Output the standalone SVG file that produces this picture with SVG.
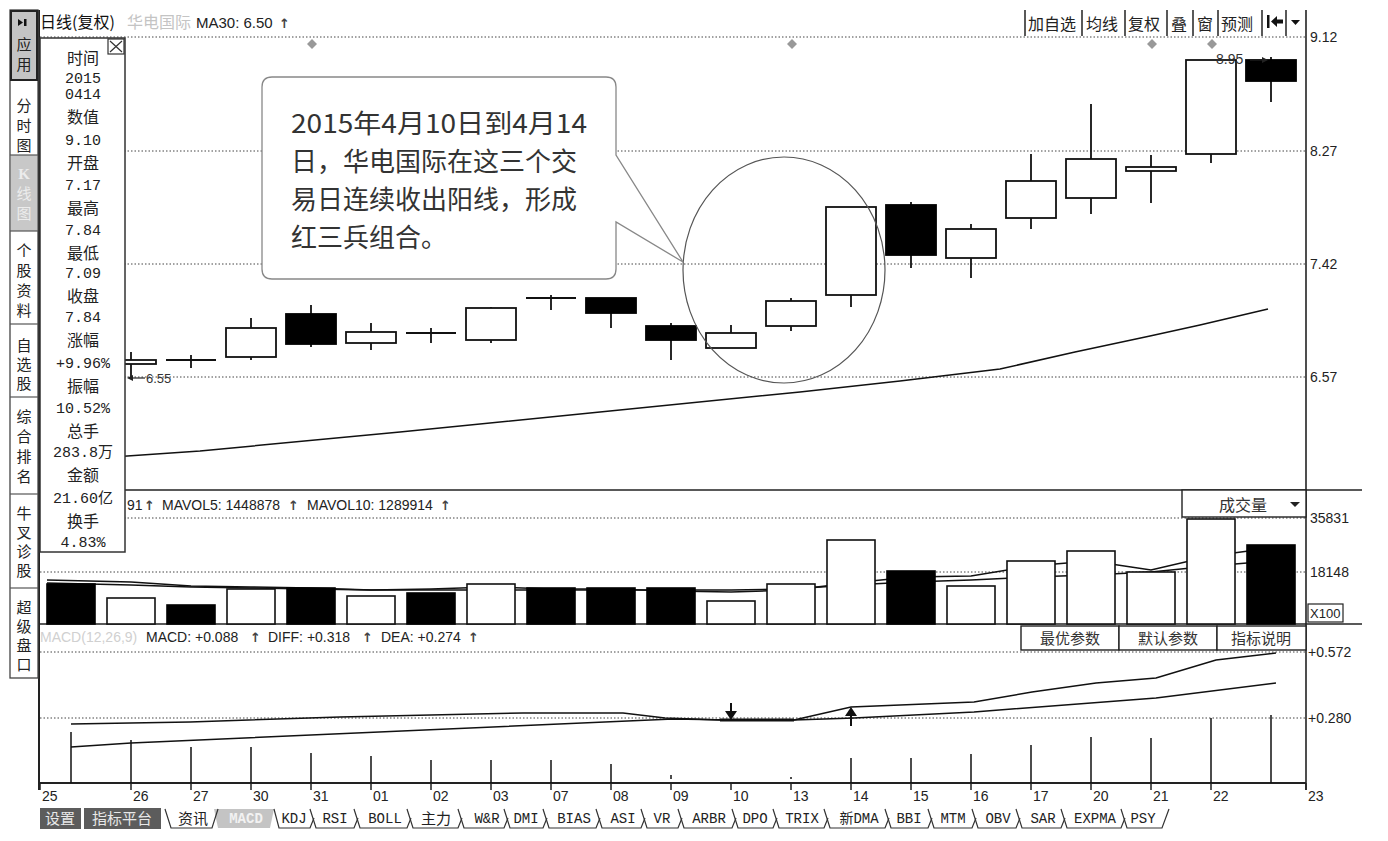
<svg xmlns="http://www.w3.org/2000/svg" width="1388" height="841" viewBox="0 0 1388 841">
<defs>
<style>
.cjk{font-family:"Noto Sans CJK SC",sans-serif;}
.sans{font-family:"Liberation Sans","Noto Sans CJK SC",sans-serif;}
.mono{font-family:"Liberation Mono","Noto Sans CJK SC",monospace;}
.grid{stroke:#444;stroke-width:1;stroke-dasharray:1.5 2;fill:none;}
.solid{stroke:#222;stroke-width:1.6;fill:none;}
.cw{fill:#fff;stroke:#111;stroke-width:1.8;}
.cb{fill:#000;stroke:#000;stroke-width:1.8;}
.wk{stroke:#111;stroke-width:1.8;}
.vw{fill:#fff;stroke:#111;stroke-width:1.6;}
.vb{fill:#000;stroke:#000;stroke-width:1.6;}
.bar{stroke:#111;stroke-width:1.5;}
.ln{fill:none;stroke:#111;stroke-width:1.5;}
.side{font-family:"Noto Sans CJK SC",sans-serif;font-size:15px;fill:#222;text-anchor:middle;}
.info{font-family:"Noto Sans CJK SC",sans-serif;font-size:16px;fill:#222;text-anchor:middle;}
.infov{font-family:"Liberation Mono","Noto Sans CJK SC",monospace;font-size:15px;fill:#222;text-anchor:middle;}
.ax{font-family:"Liberation Sans",sans-serif;font-size:14px;fill:#222;}
.tab{font-family:"Liberation Mono","Noto Sans CJK SC",monospace;font-size:14px;fill:#222;text-anchor:middle;}
.tabc{font-family:"Noto Sans CJK SC",sans-serif;font-size:15px;fill:#222;text-anchor:middle;}
.tb{font-family:"Noto Sans CJK SC",sans-serif;font-size:16px;fill:#222;}
.arr{font-family:"DejaVu Sans",sans-serif;font-size:13px;fill:#444;font-weight:bold;}
.dia{fill:#999;}
</style>
</defs>
<rect width="1388" height="841" fill="#fff"/>

<!-- grid lines -->
<g id="grid">
<line x1="40" y1="37" x2="1306" y2="37" class="grid"/>
<line x1="40" y1="151" x2="1306" y2="151" class="grid"/>
<line x1="40" y1="264" x2="1306" y2="264" class="grid"/>
<line x1="40" y1="377" x2="1306" y2="377" class="grid"/>
<line x1="40" y1="518" x2="1306" y2="518" class="grid"/>
<line x1="40" y1="572" x2="1306" y2="572" class="grid"/>
<line x1="40" y1="652" x2="1306" y2="652" class="grid"/>
<line x1="40" y1="718" x2="1306" y2="718" class="grid"/>
</g>

<!-- frame -->
<g id="frame">
<line x1="39" y1="10" x2="39" y2="790" stroke="#222" stroke-width="2"/>
<line x1="1306" y1="10" x2="1306" y2="790" stroke="#222" stroke-width="1.6"/>
<line x1="40" y1="490" x2="1362" y2="490" class="solid"/>
<line x1="40" y1="624" x2="1362" y2="624" class="solid"/>
<line x1="40" y1="783" x2="1306" y2="783" stroke="#222" stroke-width="2"/>
</g>

<!-- header -->
<g id="header">
<text x="40" y="28" class="cjk" font-size="16" fill="#111">日线(复权)</text>
<text x="127" y="28" class="cjk" font-size="16" fill="#c4c4c4">华电国际</text>
<text x="196" y="28" class="sans" font-size="15" fill="#222">MA30: 6.50</text>
<text x="279" y="28" class="arr">↑</text>
<polygon points="312,39 317,44 312,49 307,44" class="dia"/>
<polygon points="792,39 797,44 792,49 787,44" class="dia"/>
<polygon points="1152,39 1157,44 1152,49 1147,44" class="dia"/>
<polygon points="1212,39 1217,44 1212,49 1207,44" class="dia"/>
</g>

<!-- toolbar -->
<g id="toolbar">
<g stroke="#222" stroke-width="1.5">
<line x1="1025" y1="10" x2="1025" y2="36"/>
<line x1="1082" y1="10" x2="1082" y2="36"/>
<line x1="1125" y1="10" x2="1125" y2="36"/>
<line x1="1167" y1="10" x2="1167" y2="36"/>
<line x1="1193" y1="10" x2="1193" y2="36"/>
<line x1="1218" y1="10" x2="1218" y2="36"/>
<line x1="1262" y1="10" x2="1262" y2="36"/>
<line x1="1286" y1="10" x2="1286" y2="36"/>
</g>
<text x="1028" y="30" class="tb">加自选</text>
<text x="1086" y="30" class="tb">均线</text>
<text x="1128" y="30" class="tb">复权</text>
<text x="1171" y="30" class="tb">叠</text>
<text x="1197" y="30" class="tb">窗</text>
<text x="1221" y="30" class="tb">预测</text>
<rect x="1267" y="15" width="2.5" height="13" fill="#111"/>
<polygon points="1271,21.5 1277,16 1277,19.5 1283,19.5 1283,23.5 1277,23.5 1277,27" fill="#111"/>
<polygon points="1291,20 1300,20 1295.5,25" fill="#111"/>
</g>

<!-- MA30 line -->
<g id="ma30">
<polyline class="ln" points="40,462 200,451 400,432 600,412 800,392 900,381 1000,369 1075,352 1150,336 1200,325 1268,309"/>
</g>

<!-- candles -->
<g id="candles">
<g id="c0"><line x1="131" y1="352" x2="131" y2="378" class="wk"/><rect x="106" y="360" width="50" height="4" class="cw"/></g>
<g id="c1"><line x1="191" y1="355" x2="191" y2="368" class="wk"/><line x1="166" y1="360" x2="216" y2="360" class="wk"/></g>
<g id="c2"><line x1="251" y1="318" x2="251" y2="360" class="wk"/><rect x="226" y="328" width="50" height="29" class="cw"/></g>
<g id="c3"><line x1="311" y1="305" x2="311" y2="347" class="wk"/><rect x="286" y="314" width="50" height="30" class="cb"/></g>
<g id="c4"><line x1="371" y1="323" x2="371" y2="350" class="wk"/><rect x="346" y="332" width="50" height="11" class="cw"/></g>
<g id="c5"><line x1="431" y1="328" x2="431" y2="343" class="wk"/><line x1="406" y1="333" x2="456" y2="333" class="wk"/></g>
<g id="c6"><line x1="491" y1="307" x2="491" y2="343" class="wk"/><rect x="466" y="308" width="50" height="32" class="cw"/></g>
<g id="c7"><line x1="551" y1="295" x2="551" y2="310" class="wk"/><line x1="526" y1="298" x2="576" y2="298" class="wk"/></g>
<g id="c8"><line x1="611" y1="298" x2="611" y2="328" class="wk"/><rect x="586" y="298" width="50" height="15" class="cb"/></g>
<g id="c9"><line x1="671" y1="323" x2="671" y2="360" class="wk"/><rect x="646" y="326" width="50" height="14" class="cb"/></g>
<g id="c10"><line x1="731" y1="325" x2="731" y2="348" class="wk"/><rect x="706" y="333" width="50" height="15" class="cw"/></g>
<g id="c11"><line x1="791" y1="298" x2="791" y2="331" class="wk"/><rect x="766" y="301" width="50" height="25" class="cw"/></g>
<g id="c12"><line x1="851" y1="207" x2="851" y2="307" class="wk"/><rect x="826" y="207" width="50" height="88" class="cw"/></g>
<g id="c13"><line x1="911" y1="202" x2="911" y2="268" class="wk"/><rect x="886" y="205" width="50" height="50" class="cb"/></g>
<g id="c14"><line x1="971" y1="224" x2="971" y2="278" class="wk"/><rect x="946" y="229" width="50" height="29" class="cw"/></g>
<g id="c15"><line x1="1031" y1="154" x2="1031" y2="229" class="wk"/><rect x="1006" y="181" width="50" height="37" class="cw"/></g>
<g id="c16"><line x1="1091" y1="104" x2="1091" y2="214" class="wk"/><rect x="1066" y="159" width="50" height="39" class="cw"/></g>
<g id="c17"><line x1="1151" y1="155" x2="1151" y2="203" class="wk"/><rect x="1126" y="167" width="50" height="4" class="cw"/></g>
<g id="c18"><line x1="1211" y1="60" x2="1211" y2="163" class="wk"/><rect x="1186" y="60" width="50" height="94" class="cw"/></g>
<g id="c19"><line x1="1271" y1="57" x2="1271" y2="102" class="wk"/><rect x="1246" y="60" width="50" height="21" class="cb"/></g>
<g id="mark-low">
<line x1="131" y1="378" x2="145" y2="378" stroke="#222" stroke-width="1.2"/>
<polygon points="127,378 133,375 133,381" fill="#222"/>
<text x="146" y="383" class="sans" font-size="13" fill="#333">6.55</text>
</g>
<g id="mark-high">
<text x="1216" y="64" class="sans" font-size="14" fill="#333">8.95</text>
<line x1="1250" y1="60" x2="1262" y2="60" stroke="#222" stroke-width="1.2"/>
<polygon points="1268,60 1262,57 1262,63" fill="#222"/>
</g>
</g>

<!-- annotation -->
<g id="annotation">
<ellipse cx="784" cy="270" rx="101" ry="113" fill="none" stroke="#555" stroke-width="1.2"/>
<path d="M272,77 H606 Q616,77 616,87 V155 L683,262 L616,222 V269 Q616,279 606,279 H272 Q262,279 262,269 V87 Q262,77 272,77 Z" fill="#fff" stroke="#888" stroke-width="1.3"/>
<g class="cjk" font-size="26" fill="#333">
<text x="291" y="133" textLength="296" lengthAdjust="spacingAndGlyphs">2015年4月10日到4月14</text>
<text x="291" y="171">日，华电国际在这三个交</text>
<text x="291" y="209">易日连续收出阳线，形成</text>
<text x="291" y="247">红三兵组合。</text>
</g>
</g>

<!-- volume panel -->
<g id="volume">
<polyline class="ln" stroke-width="1.2" points="47,580 131,582 191,586 251,587 311,588 371,590 431,589 491,587 551,589 611,589 671,591 731,592 791,590 851,583 911,577 971,576 1031,566 1091,561 1151,570 1211,556 1271,548"/>
<polyline class="ln" stroke-width="1.2" points="47,583 131,585 191,587 251,588 311,589 371,590 431,590 491,590 551,590 611,590 671,590 731,590 791,589 851,585 911,582 971,580 1031,577 1091,575 1151,572 1211,566 1271,561"/>
<rect x="47" y="584" width="48" height="40" class="vb"/>
<rect x="107" y="598" width="48" height="26" class="vw"/>
<rect x="167" y="605" width="48" height="19" class="vb"/>
<rect x="227" y="589" width="48" height="35" class="vw"/>
<rect x="287" y="588" width="48" height="36" class="vb"/>
<rect x="347" y="596" width="48" height="28" class="vw"/>
<rect x="407" y="593" width="48" height="31" class="vb"/>
<rect x="467" y="584" width="48" height="40" class="vw"/>
<rect x="527" y="588" width="48" height="36" class="vb"/>
<rect x="587" y="588" width="48" height="36" class="vb"/>
<rect x="647" y="588" width="48" height="36" class="vb"/>
<rect x="707" y="601" width="48" height="23" class="vw"/>
<rect x="767" y="584" width="48" height="40" class="vw"/>
<rect x="827" y="540" width="48" height="84" class="vw"/>
<rect x="887" y="571" width="48" height="53" class="vb"/>
<rect x="947" y="586" width="48" height="38" class="vw"/>
<rect x="1007" y="561" width="48" height="63" class="vw"/>
<rect x="1067" y="551" width="48" height="73" class="vw"/>
<rect x="1127" y="572" width="48" height="52" class="vw"/>
<rect x="1187" y="519" width="48" height="105" class="vw"/>
<rect x="1247" y="545" width="48" height="79" class="vb"/>
<text x="127" y="510" class="sans" font-size="14" fill="#222">91</text>
<text x="144" y="510" class="arr">↑</text>
<text x="162" y="510" class="sans" font-size="14" fill="#222">MAVOL5: 1448878</text>
<text x="288" y="510" class="arr">↑</text>
<text x="307" y="510" class="sans" font-size="14" fill="#222">MAVOL10: 1289914</text>
<text x="440" y="510" class="arr">↑</text>
<g id="vol-select">
<rect x="1182" y="490" width="124" height="27" fill="#fff" stroke="#222" stroke-width="1.4"/>
<text x="1219" y="511" class="cjk" font-size="16" fill="#333">成交量</text>
<polygon points="1290,502 1300,502 1295,507" fill="#222"/>
</g>
</g>

<!-- MACD panel -->
<g id="macd">
<text x="40" y="642" class="sans" font-size="14" fill="#d0d0d0">MACD(12,26,9)</text>
<text x="146" y="642" class="sans" font-size="14" fill="#222">MACD: +0.088</text>
<text x="250" y="642" class="arr">↑</text>
<text x="268" y="642" class="sans" font-size="14" fill="#222">DIFF: +0.318</text>
<text x="362" y="642" class="arr">↑</text>
<text x="381" y="642" class="sans" font-size="14" fill="#222">DEA: +0.274</text>
<text x="468" y="642" class="arr">↑</text>
<g id="macd-buttons">
<rect x="1021" y="626" width="98" height="24" fill="#fff" stroke="#222" stroke-width="1.4"/>
<rect x="1119" y="626" width="98" height="24" fill="#fff" stroke="#222" stroke-width="1.4"/>
<rect x="1217" y="626" width="89" height="24" fill="#fff" stroke="#222" stroke-width="1.4"/>
<text x="1070" y="644" class="cjk" font-size="15" fill="#333" text-anchor="middle">最优参数</text>
<text x="1168" y="644" class="cjk" font-size="15" fill="#333" text-anchor="middle">默认参数</text>
<text x="1261" y="644" class="cjk" font-size="15" fill="#333" text-anchor="middle">指标说明</text>
</g>
<g id="macd-bars">
<line x1="71" y1="732" x2="71" y2="783" class="bar"/>
<line x1="131" y1="740" x2="131" y2="783" class="bar"/>
<line x1="191" y1="747" x2="191" y2="783" class="bar"/>
<line x1="251" y1="747" x2="251" y2="783" class="bar"/>
<line x1="311" y1="753" x2="311" y2="783" class="bar"/>
<line x1="371" y1="756" x2="371" y2="783" class="bar"/>
<line x1="431" y1="760" x2="431" y2="783" class="bar"/>
<line x1="491" y1="760" x2="491" y2="783" class="bar"/>
<line x1="551" y1="760" x2="551" y2="783" class="bar"/>
<line x1="611" y1="764" x2="611" y2="783" class="bar"/>
<line x1="671" y1="775" x2="671" y2="779" class="bar"/>
<line x1="791" y1="777" x2="791" y2="779" class="bar"/>
<line x1="851" y1="758" x2="851" y2="783" class="bar"/>
<line x1="911" y1="758" x2="911" y2="783" class="bar"/>
<line x1="971" y1="754" x2="971" y2="783" class="bar"/>
<line x1="1031" y1="745" x2="1031" y2="783" class="bar"/>
<line x1="1091" y1="737" x2="1091" y2="783" class="bar"/>
<line x1="1151" y1="738" x2="1151" y2="783" class="bar"/>
<line x1="1211" y1="718" x2="1211" y2="783" class="bar"/>
<line x1="1271" y1="715" x2="1271" y2="783" class="bar"/>
</g>
<polyline class="ln" points="71,724 190,722 340,717 523,713 623,713 665,718 720,720 794,720 851,707 974,702 1032,692 1096,683 1156,678 1216,660 1276,653"/>
<polyline class="ln" points="71,747 131,743 673,719 731,720 794,720 854,718 974,712 1156,698 1276,683"/>
<line x1="720" y1="720" x2="794" y2="720" stroke="#111" stroke-width="3"/>
<line x1="731" y1="703" x2="731" y2="712" stroke="#111" stroke-width="2"/>
<polygon points="725,711 737,711 731,720" fill="#111"/>
<line x1="851" y1="726" x2="851" y2="715" stroke="#111" stroke-width="2"/>
<polygon points="845,716 857,716 851,707" fill="#111"/>
</g>

<!-- right axis labels -->
<g id="yaxis" class="ax">
<text x="1310" y="42">9.12</text>
<text x="1310" y="156">8.27</text>
<text x="1310" y="269">7.42</text>
<text x="1310" y="382">6.57</text>
<text x="1310" y="523">35831</text>
<text x="1310" y="577">18148</text>
<rect x="1308" y="604" width="35" height="18" fill="#fff" stroke="#222" stroke-width="1.2"/>
<text x="1310" y="618" font-size="13">X100</text>
<text x="1308" y="657">+0.572</text>
<text x="1308" y="723">+0.280</text>
</g>

<!-- date axis -->
<g id="xaxis">
<g stroke="#222" stroke-width="1.5">
<line x1="40" y1="783" x2="40" y2="790"/>
<line x1="131" y1="783" x2="131" y2="790"/>
<line x1="191" y1="783" x2="191" y2="790"/>
<line x1="251" y1="783" x2="251" y2="790"/>
<line x1="311" y1="783" x2="311" y2="790"/>
<line x1="371" y1="783" x2="371" y2="790"/>
<line x1="431" y1="783" x2="431" y2="790"/>
<line x1="491" y1="783" x2="491" y2="790"/>
<line x1="551" y1="783" x2="551" y2="790"/>
<line x1="611" y1="783" x2="611" y2="790"/>
<line x1="671" y1="783" x2="671" y2="790"/>
<line x1="731" y1="783" x2="731" y2="790"/>
<line x1="791" y1="783" x2="791" y2="790"/>
<line x1="851" y1="783" x2="851" y2="790"/>
<line x1="911" y1="783" x2="911" y2="790"/>
<line x1="971" y1="783" x2="971" y2="790"/>
<line x1="1031" y1="783" x2="1031" y2="790"/>
<line x1="1091" y1="783" x2="1091" y2="790"/>
<line x1="1151" y1="783" x2="1151" y2="790"/>
<line x1="1211" y1="783" x2="1211" y2="790"/>
<line x1="1306" y1="783" x2="1306" y2="790"/>
</g>
<g class="ax">
<text x="42" y="801">25</text>
<text x="133" y="801">26</text>
<text x="193" y="801">27</text>
<text x="253" y="801">30</text>
<text x="313" y="801">31</text>
<text x="373" y="801">01</text>
<text x="433" y="801">02</text>
<text x="493" y="801">03</text>
<text x="553" y="801">07</text>
<text x="613" y="801">08</text>
<text x="673" y="801">09</text>
<text x="733" y="801">10</text>
<text x="793" y="801">13</text>
<text x="853" y="801">14</text>
<text x="913" y="801">15</text>
<text x="973" y="801">16</text>
<text x="1033" y="801">17</text>
<text x="1093" y="801">20</text>
<text x="1153" y="801">21</text>
<text x="1213" y="801">22</text>
<text x="1308" y="801">23</text>
</g>
</g>

<!-- bottom tabs -->
<g id="tabs">
<rect x="40" y="808" width="41" height="21" fill="#5c5c5c"/>
<rect x="84" y="808" width="77" height="21" fill="#5c5c5c"/>
<text x="60" y="824" class="tabc" style="fill:#e8e8e8">设置</text>
<text x="122" y="824" class="tabc" style="fill:#e8e8e8">指标平台</text>
<polygon points="214,809 274,809 270,828 218,828" fill="#c4c4c4"/>
<text x="246" y="823" class="tab" style="fill:#f2f2f2;font-weight:bold">MACD</text>
<g stroke="#333" stroke-width="1.2" fill="none">
<path d="M165,809 L171,828 H212 L218,809"/>
<path d="M274,809 L279,828 H310 L314,818"/>
<path d="M310,809 L316,828 H354 L358,818"/>
<path d="M354,809 L360,828 H407 L411,818"/>
<path d="M407,809 L413,828 H458 L462,818"/>
<path d="M458,809 L464,828 H504 L508,818"/>
<path d="M504,809 L510,828 H543 L547,818"/>
<path d="M543,809 L549,828 H596 L600,818"/>
<path d="M596,809 L602,828 H641 L645,818"/>
<path d="M641,809 L647,828 H678 L682,818"/>
<path d="M678,809 L684,828 H732 L736,818"/>
<path d="M732,809 L738,828 H773 L777,818"/>
<path d="M773,809 L779,828 H824 L828,818"/>
<path d="M824,809 L830,828 H885 L889,818"/>
<path d="M885,809 L891,828 H928 L932,818"/>
<path d="M928,809 L934,828 H972 L976,818"/>
<path d="M972,809 L978,828 H1016 L1020,818"/>
<path d="M1016,809 L1022,828 H1061 L1065,818"/>
<path d="M1061,809 L1067,828 H1121 L1125,818"/>
<path d="M1121,809 L1127,828 H1162 L1169,809"/>
</g>
<text x="193" y="824" class="tabc">资讯</text>
<text x="294" y="823" class="tab">KDJ</text>
<text x="335" y="823" class="tab">RSI</text>
<text x="385" y="823" class="tab">BOLL</text>
<text x="436" y="824" class="tabc">主力</text>
<text x="487" y="823" class="tab">W&amp;R</text>
<text x="526" y="823" class="tab">DMI</text>
<text x="574" y="823" class="tab">BIAS</text>
<text x="623" y="823" class="tab">ASI</text>
<text x="662" y="823" class="tab">VR</text>
<text x="709" y="823" class="tab">ARBR</text>
<text x="755" y="823" class="tab">DPO</text>
<text x="802" y="823" class="tab">TRIX</text>
<text x="859" y="823" class="tab">新DMA</text>
<text x="909" y="823" class="tab">BBI</text>
<text x="953" y="823" class="tab">MTM</text>
<text x="998" y="823" class="tab">OBV</text>
<text x="1043" y="823" class="tab">SAR</text>
<text x="1095" y="823" class="tab">EXPMA</text>
<text x="1143" y="823" class="tab">PSY</text>
</g>

<!-- info panel -->
<g id="info-panel">
<rect x="40" y="38" width="85" height="514" fill="#fff" stroke="#333" stroke-width="1.5"/>
<rect x="108" y="39" width="16" height="15" fill="#fff" stroke="#333" stroke-width="1.2"/>
<path d="M110,41 L122,52 M122,41 L110,52" stroke="#333" stroke-width="1.2"/>
<text x="83" y="64" class="info" font-size="17">时间</text>
<text x="83" y="83" class="infov" font-size="14">2015</text>
<text x="83" y="99" class="infov" font-size="14">0414</text>
<text x="83" y="123" class="info">数值</text>
<text x="83" y="145" class="infov">9.10</text>
<text x="83" y="169" class="info">开盘</text>
<text x="83" y="190" class="infov">7.17</text>
<text x="83" y="214" class="info">最高</text>
<text x="83" y="235" class="infov">7.84</text>
<text x="83" y="259" class="info">最低</text>
<text x="83" y="278" class="infov">7.09</text>
<text x="83" y="302" class="info">收盘</text>
<text x="83" y="322" class="infov">7.84</text>
<text x="83" y="346" class="info">涨幅</text>
<text x="83" y="368" class="infov">+9.96%</text>
<text x="83" y="392" class="info">振幅</text>
<text x="83" y="413" class="infov">10.52%</text>
<text x="83" y="437" class="info">总手</text>
<text x="83" y="457" class="infov">283.8万</text>
<text x="83" y="481" class="info">金额</text>
<text x="83" y="503" class="infov">21.60亿</text>
<text x="83" y="527" class="info">换手</text>
<text x="83" y="547" class="infov">4.83%</text>
</g>

<!-- sidebar -->
<g id="sidebar">
<rect x="10" y="10" width="28" height="668" fill="#fff" stroke="#444" stroke-width="1.3"/>
<rect x="11" y="11" width="26" height="69" fill="#c4c4c4" stroke="#222" stroke-width="2"/>
<polygon points="18,19 23,22.5 18,26" fill="#111"/>
<rect x="24" y="19" width="2.5" height="7" fill="#111"/>
<text x="24" y="50" class="side">应</text>
<text x="24" y="70" class="side">用</text>
<rect x="11" y="155" width="26" height="76" fill="#c8c8c8"/>
<g stroke="#555" stroke-width="1.2">
<line x1="10" y1="155" x2="38" y2="155"/>
<line x1="10" y1="231" x2="38" y2="231"/>
<line x1="10" y1="324" x2="38" y2="324"/>
<line x1="10" y1="397" x2="38" y2="397"/>
<line x1="10" y1="494" x2="38" y2="494"/>
<line x1="10" y1="588" x2="38" y2="588"/>
</g>
<text x="24" y="111" class="side">分</text>
<text x="24" y="131" class="side">时</text>
<text x="24" y="151" class="side">图</text>
<text x="24" y="179" class="side" style="fill:#ececec;font-family:'Liberation Serif',serif;font-weight:bold">K</text>
<text x="24" y="199" class="side" style="fill:#ececec">线</text>
<text x="24" y="219" class="side" style="fill:#ececec">图</text>
<text x="24" y="256" class="side">个</text>
<text x="24" y="276" class="side">股</text>
<text x="24" y="296" class="side">资</text>
<text x="24" y="316" class="side">料</text>
<text x="24" y="351" class="side">自</text>
<text x="24" y="370" class="side">选</text>
<text x="24" y="389" class="side">股</text>
<text x="24" y="422" class="side">综</text>
<text x="24" y="442" class="side">合</text>
<text x="24" y="462" class="side">排</text>
<text x="24" y="482" class="side">名</text>
<text x="24" y="519" class="side">牛</text>
<text x="24" y="538" class="side">叉</text>
<text x="24" y="557" class="side">诊</text>
<text x="24" y="576" class="side">股</text>
<text x="24" y="613" class="side">超</text>
<text x="24" y="632" class="side">级</text>
<text x="24" y="651" class="side">盘</text>
<text x="24" y="670" class="side">口</text>
</g>
</svg>
